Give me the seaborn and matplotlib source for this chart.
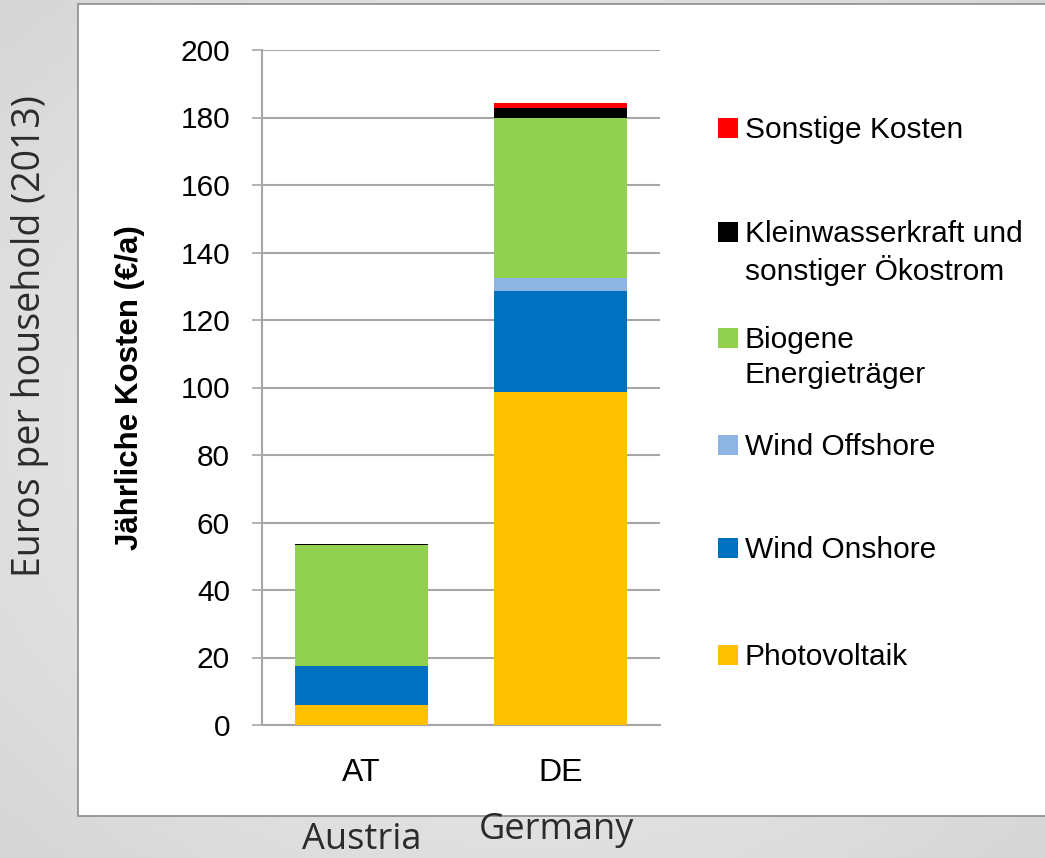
import numpy as np
import pandas as pd
import matplotlib.pyplot as plt
import seaborn as sns
from matplotlib.patches import Rectangle

countries = ['AT', 'DE']
sources = ['Photovoltaik', 'Wind Onshore', 'Wind Offshore', 'Biogene Energieträger',
           'Kleinwasserkraft und sonstiger Ökostrom', 'Sonstige Kosten']
at_values = [6.0, 11.6, 0.0, 35.7, 0.4, 0.0]
de_values = [98.7, 30.0, 3.6, 47.7, 2.7, 1.7]
colors = ['#FFC000', '#0070C0', '#8EB4E3', '#92D050', '#000000', '#FF0000']
legend_labels = ['Sonstige Kosten', 'Kleinwasserkraft und\nsonstiger Ökostrom',
                 'Biogene\nEnergieträger', 'Wind Offshore', 'Wind Onshore', 'Photovoltaik']

rows = []
for c, vals in zip(countries, [at_values, de_values]):
    for s, v in zip(sources, vals):
        rows.append({'country': c, 'source': s, 'value': v})
df = pd.DataFrame(rows)
df['cum'] = df.groupby('country')['value'].cumsum()

sns.set_theme(style='white')
plt.rcParams['font.family'] = ['Liberation Sans', 'DejaVu Sans']

fig = plt.figure(figsize=(10.45, 8.58), dpi=100)
fig.patch.set_facecolor('#e4e4e4')

# soft radial background
bg = fig.add_axes([0, 0, 1, 1], zorder=-10)
yy, xx = np.mgrid[-1:1:200j, -1:1:200j]
r = np.sqrt(xx ** 2 + yy ** 2)
bg.imshow(0.95 - 0.08 * r, cmap='gray', vmin=0, vmax=1, aspect='auto', extent=[0, 1, 0, 1])
bg.axis('off')

# white chart box
fig.patches.append(Rectangle((78 / 1045, 42 / 858), 1.0, 812 / 858, transform=fig.transFigure,
                             facecolor='white', edgecolor='#8c8c8c', linewidth=1.2, zorder=-5))

ax = fig.add_axes([262 / 1045, 133 / 858, 398 / 1045, 675 / 858])
ax.patch.set_alpha(0)

# draw stacks from top down, each bar is the cumulative height
for i in range(len(sources) - 1, -1, -1):
    sub = df[df['source'] == sources[i]]
    sns.barplot(data=sub, x='country', y='cum', order=countries, color=colors[i],
                width=0.665, linewidth=0, saturation=1, ax=ax, zorder=3)

ax.set_ylim(0, 200)
ax.set_xlim(-0.5, 1.5)
ax.set_yticks(range(0, 201, 20))
ax.yaxis.grid(True, color='#a6a6a6', linewidth=1.5, zorder=0)
ax.set_axisbelow(True)
for sp in ['top', 'right']:
    ax.spines[sp].set_visible(False)
for sp in ['left', 'bottom']:
    ax.spines[sp].set_color('#a6a6a6')
    ax.spines[sp].set_linewidth(1.5)
ax.tick_params(axis='y', which='both', left=True, length=7, width=1.2, color='#a6a6a6',
               pad=16, labelsize=21.5, labelcolor='black')
ax.tick_params(axis='x', bottom=False, pad=18, labelsize=23, labelcolor='black')
ax.set_xlabel('')
ax.set_ylabel('Jährliche Kosten (€/a)', fontsize=22.5, fontweight='bold',
              family=['Liberation Sans Narrow', 'Liberation Sans'], color='black')
ax.yaxis.set_label_coords(-0.294, 0.5)

# legend
leg_y = [128, 232, 338, 445, 548, 655]
leg_colors = colors[::-1]
for lab, y, col in zip(legend_labels, leg_y, leg_colors):
    fig.patches.append(Rectangle((718 / 1045, 1 - (y + 10) / 858), 20 / 1045, 20 / 858,
                                 transform=fig.transFigure, facecolor=col, edgecolor='none'))
    fig.text(745 / 1045, 1 - (y - 12) / 858, lab, fontsize=21.5, va='top', ha='left',
             color='black', linespacing=1.3)

# outer labels
outer_font = ['Open Sans', 'DejaVu Sans']
fig.text(30 / 1045, 1 - 336 / 858, 'Euros per household (2013)', rotation=90, fontsize=27,
         family=outer_font, color='#2b2b2b', ha='center', va='center')
fig.text(362 / 1045, 1 - 840 / 858, 'Austria', fontsize=26, family=outer_font,
         color='#2b2b2b', ha='center', va='center')
fig.text(556 / 1045, 1 - 830 / 858, 'Germany', fontsize=26, family=outer_font,
         color='#2b2b2b', ha='center', va='center')

fig.savefig('out.png', dpi=100)
